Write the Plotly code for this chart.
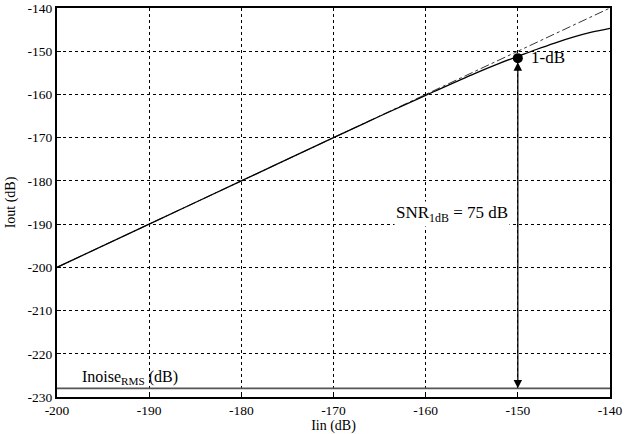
import plotly.graph_objects as go

# Data
iin_ideal = [-200, -140]
iout_ideal = [-200, -140]

iin_actual = [-200, -190, -180, -170, -165, -160, -155, -152, -150, -148, -146, -144, -142, -140]
iout_actual = [-200, -190, -180, -170.0, -165.05, -160.2, -155.45, -152.8, -151.2, -149.6, -148.1, -146.75, -145.6, -144.7]

noise_floor = -228
p1db_x = -150
p1db_y = -151.6

xticks = [-200, -190, -180, -170, -160, -150, -140]
yticks = [-140, -150, -160, -170, -180, -190, -200, -210, -220, -230]

FONT = "'Liberation Serif', 'Times New Roman', Times, serif"

fig = go.Figure()
fig.add_trace(go.Scatter(x=[-200, -140], y=[noise_floor, noise_floor], mode="lines",
                         line=dict(color="#555555", width=1.6), hoverinfo="skip"))
fig.add_trace(go.Scatter(x=iin_ideal, y=iout_ideal, mode="lines",
                         line=dict(color="black", width=0.8, dash="dashdot"), hoverinfo="skip"))
fig.add_trace(go.Scatter(x=iin_actual, y=iout_actual, mode="lines", line_shape="spline",
                         line=dict(color="black", width=1.3), hoverinfo="skip"))
fig.add_trace(go.Scatter(x=[p1db_x], y=[p1db_y], mode="markers",
                         marker=dict(color="black", size=10), hoverinfo="skip"))

fig.add_annotation(x=p1db_x, y=noise_floor, ax=p1db_x, ay=p1db_y - 0.6, xref="x", yref="y",
                   axref="x", ayref="y", showarrow=True, arrowhead=2, arrowside="end+start",
                   arrowsize=1.3, arrowwidth=1.3, arrowcolor="black", text="")
fig.add_annotation(x=-148.8, y=-151.4, xref="x", yref="y", text="1-dB", showarrow=False,
                   xanchor="left", font=dict(family=FONT, size=17, color="black"))
fig.add_annotation(x=-150.9, y=-187.6, xref="x", yref="y",
                   text="SNR<sub>1dB</sub> = 75 dB", showarrow=False,
                   xanchor="right", bgcolor="white", font=dict(family=FONT, size=17, color="black"))
fig.add_annotation(x=-197.5, y=-225.5, xref="x", yref="y",
                   text="Inoise<sub>RMS</sub> (dB)", showarrow=False,
                   xanchor="left", font=dict(family=FONT, size=16, color="black"))

axis_common = dict(showgrid=True, gridcolor="black", griddash="dot", gridwidth=1,
                   showline=True, linecolor="black", linewidth=2, mirror=True,
                   zeroline=False, ticks="inside", ticklen=4, tickcolor="black",
                   automargin=False,
                   tickfont=dict(family=FONT, size=13.5, color="black"))

fig.update_xaxes(range=[-200, -140], tickvals=xticks, ticktext=[str(v) for v in xticks],
                 title=dict(text="Iin (dB)", font=dict(family=FONT, size=14, color="black"), standoff=0),
                 **axis_common)
fig.update_yaxes(range=[-230, -140], tickvals=yticks, ticktext=[str(v) for v in yticks],
                 title=dict(text="Iout (dB)", font=dict(family=FONT, size=14, color="black"), standoff=9),
                 **axis_common)

fig.update_layout(width=626, height=434, margin=dict(l=57, r=16, t=8, b=37),
                  plot_bgcolor="white", paper_bgcolor="white", showlegend=False,
                  font=dict(family=FONT, color="black"))

fig.write_html("out.html", config={"displayModeBar": False},
               post_script="document.body.style.margin='0';")
